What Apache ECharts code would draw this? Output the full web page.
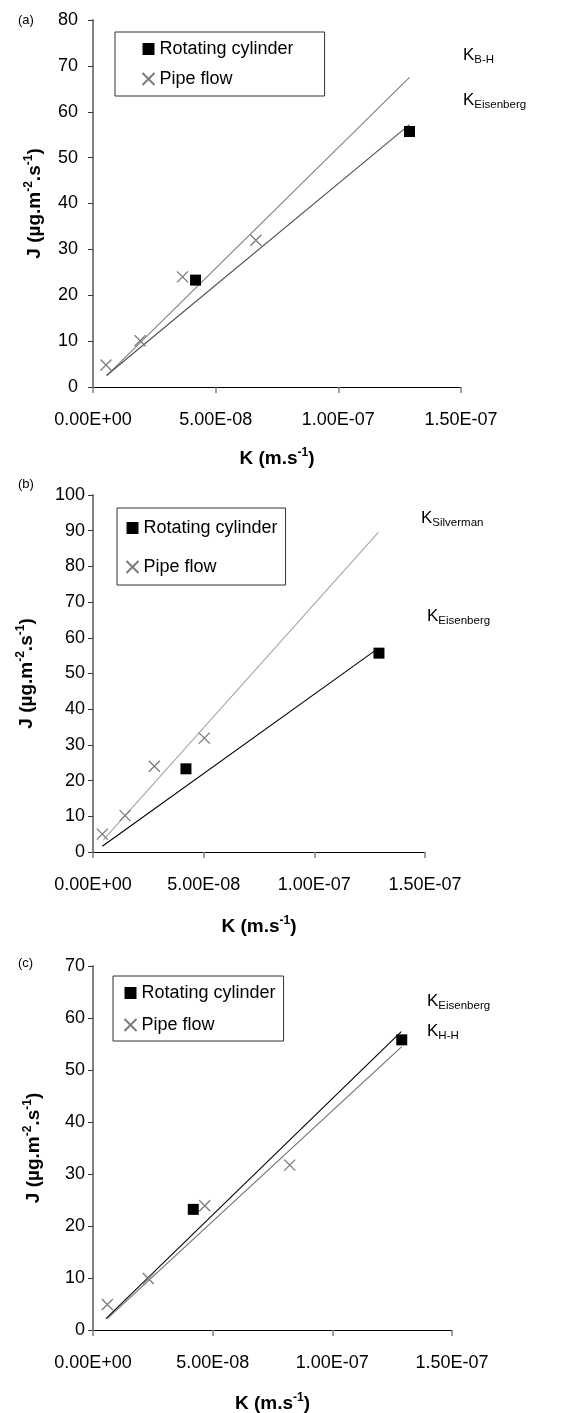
<!DOCTYPE html>
<html>
<head>
<meta charset="utf-8">
<script src="https://cdn.jsdelivr.net/npm/echarts@6/dist/echarts.min.js"></script>
<style>
  html, body { margin: 0; padding: 0; background: #fff; }
  .panel { width: 565px; }
</style>
</head>
<body>
<div id="chartA" class="panel" style="height:470px"></div>
<div id="chartB" class="panel" style="height:470px"></div>
<div id="chartC" class="panel" style="height:473px"></div>
<script>
// tick labels shared by the three panels
const xTickLabels = ['0.00E+00', '5.00E-08', '1.00E-07', '1.50E-07'];

// panel (a)
const aCylK = [4.18e-8, 1.29e-7];
const aCylJ = [23.3, 55.7];
const aPipeK = [0.53e-8, 1.92e-8, 3.65e-8, 6.64e-8];
const aPipeJ = [4.8, 10.1, 24.0, 32.0];
const aBHK = [0.56e-8, 1.29e-7];
const aBHJ = [2.5, 67.5];
const aEisK = [0.55e-8, 1.29e-7];
const aEisJ = [2.5, 57.2];

// panel (b)
const bCylK = [4.2e-8, 1.292e-7];
const bCylJ = [23.3, 55.7];
const bPipeK = [0.42e-8, 1.45e-8, 2.77e-8, 5.03e-8];
const bPipeJ = [5.0, 10.2, 24.0, 31.9];
const bSilK = [0.47e-8, 1.29e-7];
const bSilJ = [3.4, 89.6];
const bEisK = [0.42e-8, 1.29e-7];
const bEisJ = [1.6, 57.1];

// panel (c)
const cCylK = [4.19e-8, 1.29e-7];
const cCylJ = [23.2, 55.8];
const cPipeK = [0.6e-8, 2.31e-8, 4.67e-8, 8.22e-8];
const cPipeJ = [4.9, 9.9, 23.9, 31.7];
const cEisK = [0.54e-8, 1.288e-7];
const cEisJ = [2.2, 57.4];
const cHHK = [0.6e-8, 1.29e-7];
const cHHJ = [2.2, 54.5];

const FONT = '"Liberation Sans", Arial, Helvetica, sans-serif';
const CROSS = 'path://M0,0L10,10M0,10L10,0';

function pairs(xs, ys) {
  return xs.map(function (x, i) { return [x, ys[i]]; });
}

function fitLine(name, xs, ys, color) {
  return {
    name: name,
    type: 'line',
    data: pairs(xs, ys),
    symbol: 'none',
    silent: true,
    lineStyle: { color: color, width: 1.1 },
    z: 1
  };
}

function kLabel(sub, left, top) {
  return {
    type: 'text',
    left: left,
    top: top,
    style: {
      text: '{k|K}{s|' + sub + '}',
      rich: {
        k: { fontSize: 17, lineHeight: 20, fontFamily: FONT, fill: '#000' },
        s: { fontSize: 11.5, lineHeight: 12, fontFamily: FONT, fill: '#000', verticalAlign: 'bottom' }
      }
    }
  };
}

function initPanel(domId, p) {
  const chart = echarts.init(document.getElementById(domId));
  const grid = Object.assign({ outerBoundsMode: 'none', containLabel: false }, p.grid);
  const option = {
    animation: false,
    backgroundColor: '#fff',
    textStyle: { fontFamily: FONT },
    grid: grid,
    legend: {
      orient: 'vertical',
      left: p.legend.left,
      top: p.legend.top,
      padding: p.legend.padding,
      itemGap: p.legend.itemGap,
      itemWidth: 12,
      itemHeight: 12,
      borderColor: '#333',
      borderWidth: 1,
      textStyle: { fontSize: 18, lineHeight: 18, color: '#000', fontFamily: FONT },
      data: ['Rotating cylinder', 'Pipe flow']
    },
    xAxis: {
      type: 'value',
      min: 0,
      max: 1.5e-7,
      interval: 5e-8,
      splitLine: { show: false },
      axisLine: { lineStyle: { color: '#000', width: 1 } },
      axisTick: { show: true, inside: false, length: 6, lineStyle: { color: '#808080', width: 1.5 } },
      axisLabel: {
        margin: 24,
        fontSize: 18,
        color: '#000',
        fontFamily: FONT,
        formatter: function (value, index) { return xTickLabels[index]; }
      },
      name: '{b|K (m.s}{sup|-1}{b|)}',
      nameLocation: 'middle',
      nameGap: p.xNameGap,
      nameTextStyle: {
        rich: {
          b: { fontSize: 19, fontWeight: 'bold', lineHeight: 24, color: '#000', fontFamily: FONT },
          sup: { fontSize: 12, fontWeight: 'bold', lineHeight: 12, color: '#000', fontFamily: FONT, verticalAlign: 'top' }
        }
      }
    },
    yAxis: {
      type: 'value',
      min: 0,
      max: p.yMax,
      interval: 10,
      splitLine: { show: false },
      axisLine: { show: true, lineStyle: { color: '#808080', width: 2 } },
      axisTick: { show: true, inside: false, length: 5, lineStyle: { color: '#333', width: 1 } },
      axisLabel: { margin: p.yLabelMargin, fontSize: 18, color: '#000', fontFamily: FONT },
      name: '{b|J (µg.m}{sup|-2}{b|.s}{sup|-1}{b|)}',
      nameLocation: 'middle',
      nameRotate: 90,
      nameGap: p.yNameGap,
      nameTextStyle: {
        rich: {
          b: { fontSize: 19, fontWeight: 'bold', lineHeight: 24, color: '#000', fontFamily: FONT },
          sup: { fontSize: 12, fontWeight: 'bold', lineHeight: 12, color: '#000', fontFamily: FONT, verticalAlign: 'top' }
        }
      }
    },
    graphic: [
      {
        type: 'text',
        left: 18,
        top: p.letterTop,
        style: { text: p.letter, fontSize: 13, fontFamily: FONT, fill: '#000' }
      }
    ].concat(p.labels.map(function (l) { return kLabel(l[0], l[1], l[2]); })),
    series: p.lines.map(function (l) { return fitLine(l[0], l[1], l[2], l[3]); }).concat([
      {
        name: 'Rotating cylinder',
        type: 'scatter',
        symbol: 'rect',
        symbolSize: 11,
        itemStyle: { color: '#000', opacity: 1 },
        data: pairs(p.cylK, p.cylJ),
        z: 3
      },
      {
        name: 'Pipe flow',
        type: 'scatter',
        symbol: CROSS,
        symbolSize: 11,
        itemStyle: { color: 'none', borderColor: '#7a7a7a', borderWidth: 1.3, opacity: 1 },
        data: pairs(p.pipeK, p.pipeJ),
        z: 2
      }
    ])
  };
  chart.setOption(option);
  return chart;
}

initPanel('chartA', {
  letter: '(a)', letterTop: 14,
  grid: { left: 93, top: 20, width: 368, height: 367 },
  yMax: 80, yLabelMargin: 15, xNameGap: 60, yNameGap: 46,
  legend: { left: 115, top: 32, padding: [8, 31, 8, 25], itemGap: 12 },
  cylK: aCylK, cylJ: aCylJ, pipeK: aPipeK, pipeJ: aPipeJ,
  lines: [
    ['K B-H', aBHK, aBHJ, '#7f7f7f'],
    ['K Eisenberg', aEisK, aEisJ, '#4d4d4d']
  ],
  labels: [['B-H', 463, 47], ['Eisenberg', 463, 92]]
});

initPanel('chartB', {
  letter: '(b)', letterTop: 8,
  grid: { left: 93, top: 25, width: 332, height: 357 },
  yMax: 100, yLabelMargin: 8, xNameGap: 63, yNameGap: 54,
  legend: { left: 117, top: 38, padding: [11, 8, 9, 7], itemGap: 21 },
  cylK: bCylK, cylJ: bCylJ, pipeK: bPipeK, pipeJ: bPipeJ,
  lines: [
    ['K Silverman', bSilK, bSilJ, '#a6a6a6'],
    ['K Eisenberg', bEisK, bEisJ, '#000']
  ],
  labels: [['Silverman', 421, 40], ['Eisenberg', 427, 138]]
});

initPanel('chartC', {
  letter: '(c)', letterTop: 17,
  grid: { left: 93, top: 26, width: 359, height: 364 },
  yMax: 70, yLabelMargin: 8, xNameGap: 62, yNameGap: 47,
  legend: { left: 113, top: 36, padding: [8, 8, 7, 9], itemGap: 14 },
  cylK: cCylK, cylJ: cCylJ, pipeK: cPipeK, pipeJ: cPipeJ,
  lines: [
    ['K Eisenberg', cEisK, cEisJ, '#000'],
    ['K H-H', cHHK, cHHJ, '#6e6e6e']
  ],
  labels: [['Eisenberg', 427, 53], ['H-H', 427, 83]]
});
</script>
</body>
</html>
